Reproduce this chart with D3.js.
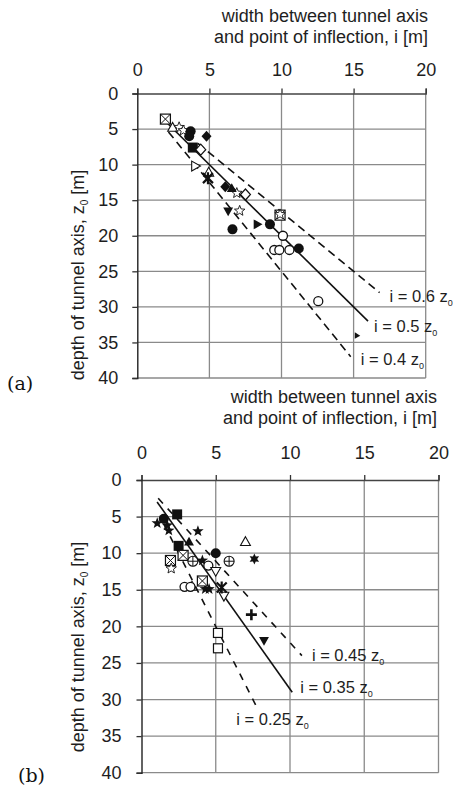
<!DOCTYPE html>
<html>
<head>
<meta charset="utf-8">
<script src="https://cdn.jsdelivr.net/npm/d3@7"></script>
<style>
  html, body { margin: 0; padding: 0; background: #fff; }
  svg { display: block; }
  .sans { font-family: "Liberation Sans", Arial, Helvetica, sans-serif; fill: #1e1e1e; }
  .serif { font-family: "DejaVu Serif", "Liberation Serif", serif; fill: #111; }
</style>
</head>
<body>
<svg id="chart" width="454" height="786"></svg>
<script>
// ---------- shared axis data ----------
const xTicks = [0, 5, 10, 15, 20];
const yTicks = [0, 5, 10, 15, 20, 25, 30, 35, 40];
const xTitle = ["width between tunnel axis", "and point of inflection, i [m]"];

// ---------- panel (a): case histories, i [m] vs z0 [m] ----------
const aCrossedSquare = [[1.95, 3.6], [9.9, 17.1]];
const aOpenTriangle = [[2.45, 4.85], [4.95, 11.15]];
const aOpenStar = [[2.9, 4.75], [3.2, 5.2], [6.9, 14.0], [7.1, 16.5], [9.9, 17.0]];
const aFilledCircle = [[3.7, 5.3], [3.6, 6.0], [6.6, 19.1], [9.2, 18.4], [11.2, 21.8]];
const aFilledDiamond = [[4.8, 6.0], [6.1, 13.1]];
const aFilledSquare = [[3.85, 7.6]];
const aOpenDiamond = [[4.4, 7.9], [7.5, 14.2]];
const aOpenRightTriangle = [[4.0, 10.2]];
const aAsterisk = [[4.9, 11.9]];
const aFilledTriangle = [[6.55, 13.4]];
const aFilledDownTriangle = [[6.3, 16.5]];
const aFilledRightTriangle = [[8.3, 18.4]];
const aOpenCircle = [[10.1, 20.0], [9.5, 22.0], [9.85, 22.0], [10.55, 22.0], [12.55, 29.2]];
const aSmallTriangle = [[15.2, 34.0]];

// trend lines i = k * z0
const aRatios = [0.6, 0.5, 0.4];
const aDepthFrom = [7, 4, 5.4];
const aDepthTo = [28, 32, 37];
const aLineLabels = ["0.6", "0.5", "0.4"];

// ---------- panel (b) ----------
const bFilledSquare = [[2.4, 4.7], [2.5, 9.0]];
const bFilledCircle = [[1.5, 5.3], [5.0, 10.0]];
const bFilledStar = [[1.06, 5.9], [1.73, 6.2], [1.84, 6.9], [3.8, 7.0], [4.1, 11.0], [4.3, 14.9], [4.55, 14.9]];
const bFilledTriangle = [[3.2, 8.5]];
const bOpenTriangle = [[7.0, 8.5], [3.4, 14.6]];
const bCrossedSquare = [[1.95, 11.0], [2.8, 10.3], [4.1, 13.8]];
const bOpenStar = [[2.0, 12.1]];
const bCirclePlus = [[3.46, 11.1], [5.9, 11.1]];
const bOpenCircle = [[4.5, 11.7], [2.9, 14.6], [3.3, 14.6]];
const bOpenDownTriangle = [[5.0, 12.4], [5.55, 15.8]];
const bSixStar = [[7.6, 10.8]];
const bAsterisk = [[5.4, 14.7]];
const bPlus = [[7.4, 18.4]];
const bFilledDownTriangle = [[8.25, 21.9]];
const bOpenSquare = [[5.15, 20.9], [5.15, 23.0]];

const bRatios = [0.45, 0.35, 0.25];
const bDepthFrom = [2.5, 3, 6];
const bDepthTo = [24, 29, 31.2];
const bLineLabels = ["0.45", "0.35", "0.25"];

// ---------- marker drawing ----------
const svg = d3.select("#chart");
const INK = "#111";

function starPath(n, ro, ri) {
  const pts = [];
  for (let k = 0; k < 2 * n; k++) {
    const r = k % 2 === 0 ? ro : ri;
    const a = -Math.PI / 2 + k * Math.PI / n;
    pts.push([r * Math.cos(a), r * Math.sin(a)]);
  }
  return "M" + pts.map(p => p[0].toFixed(2) + "," + p[1].toFixed(2)).join("L") + "Z";
}
function triPath(s, rot) {
  const p = [[0, -s], [s * 0.9, s * 0.6], [-s * 0.9, s * 0.6]];
  const c = Math.cos(rot), sn = Math.sin(rot);
  return "M" + p.map(q => [q[0] * c - q[1] * sn, q[0] * sn + q[1] * c].map(v => v.toFixed(2)).join(",")).join("L") + "Z";
}

const markers = {
  crossedSquare: g => {
    g.append("rect").attr("x", -5).attr("y", -5).attr("width", 10).attr("height", 10).attr("fill", "#fff").attr("stroke", INK).attr("stroke-width", 1.2);
    g.append("path").attr("d", "M-5,-5L5,5M5,-5L-5,5").attr("stroke", INK).attr("stroke-width", 1);
  },
  filledSquare: g => g.append("rect").attr("x", -5).attr("y", -5).attr("width", 10).attr("height", 10).attr("fill", INK),
  openSquare: g => g.append("rect").attr("x", -4.5).attr("y", -4.5).attr("width", 9).attr("height", 9).attr("fill", "#fff").attr("stroke", INK).attr("stroke-width", 1.2),
  filledCircle: g => g.append("circle").attr("r", 5).attr("fill", INK),
  openCircle: g => g.append("circle").attr("r", 4.5).attr("fill", "#fff").attr("stroke", INK).attr("stroke-width", 1.3),
  circlePlus: g => {
    g.append("circle").attr("r", 5).attr("fill", "#fff").attr("stroke", INK).attr("stroke-width", 1.1);
    g.append("path").attr("d", "M-5,0H5M0,-5V5").attr("stroke", INK).attr("stroke-width", 1);
  },
  filledDiamond: g => g.append("path").attr("d", "M0,-5.5L5,0L0,5.5L-5,0Z").attr("fill", INK),
  openDiamond: g => g.append("path").attr("d", "M0,-5.5L5,0L0,5.5L-5,0Z").attr("fill", "#fff").attr("stroke", INK).attr("stroke-width", 1.2),
  filledTriangle: g => g.append("path").attr("d", triPath(5.5, 0)).attr("fill", INK),
  openTriangle: g => g.append("path").attr("d", triPath(5.5, 0)).attr("fill", "#fff").attr("stroke", INK).attr("stroke-width", 1.1),
  filledDownTriangle: g => g.append("path").attr("d", triPath(5.5, Math.PI)).attr("fill", INK),
  openDownTriangle: g => g.append("path").attr("d", triPath(5.5, Math.PI)).attr("fill", "#fff").attr("stroke", INK).attr("stroke-width", 1.1),
  filledRightTriangle: g => g.append("path").attr("d", triPath(5.5, Math.PI / 2)).attr("fill", INK),
  openRightTriangle: g => g.append("path").attr("d", triPath(5.5, Math.PI / 2)).attr("fill", "#fff").attr("stroke", INK).attr("stroke-width", 1.1),
  smallTriangle: g => g.append("path").attr("d", triPath(3.5, -0.5)).attr("fill", INK),
  filledStar: g => g.append("path").attr("d", starPath(5, 6, 2.5)).attr("fill", INK),
  openStar: g => g.append("path").attr("d", starPath(5, 5.5, 2.4)).attr("fill", "#fff").attr("stroke", INK).attr("stroke-width", 0.9),
  sixStar: g => g.append("path").attr("d", starPath(6, 5.5, 2.8)).attr("fill", INK),
  asterisk: g => g.append("path").attr("d", "M-5,-5L5,5M5,-5L-5,5M0,-6V6").attr("stroke", INK).attr("stroke-width", 2.2),
  plus: g => g.append("path").attr("d", "M-5.5,0H5.5M0,-5.5V5.5").attr("stroke", INK).attr("stroke-width", 2.6)
};

// ---------- panel builder ----------
function panel(cfg) {
  const x = d3.scaleLinear().domain([0, 20]).range(cfg.xr);
  const y = d3.scaleLinear().domain([0, 40]).range(cfg.yr);
  const g = svg.append("g");

  // grid
  g.append("g").selectAll("line").data(xTicks.slice(1)).join("line")
    .attr("x1", d => x(d)).attr("x2", d => x(d)).attr("y1", y(0)).attr("y2", y(40))
    .attr("stroke", "#8a8a8a").attr("stroke-width", 1.3);
  g.append("g").selectAll("line").data(yTicks.slice(1)).join("line")
    .attr("x1", x(0)).attr("x2", x(20)).attr("y1", d => y(d)).attr("y2", d => y(d))
    .attr("stroke", "#8a8a8a").attr("stroke-width", 1.3);

  // axes with outward ticks
  const top = g.append("g").attr("transform", `translate(0,${y(0)})`)
    .call(d3.axisTop(x).tickValues(xTicks).tickSize(5).tickPadding(cfg.xPad).tickFormat(d3.format("d")));
  const left = g.append("g").attr("transform", `translate(${x(0)},0)`)
    .call(d3.axisLeft(y).tickValues(yTicks).tickSize(5).tickPadding(cfg.yPad).tickFormat(d3.format("d")));
  [top, left].forEach(a => {
    a.attr("font-family", null).attr("font-size", null);
    a.select(".domain").attr("stroke", "#222").attr("stroke-width", 1.4);
    a.selectAll(".tick line").attr("stroke", "#333").attr("stroke-width", 1.3);
    a.selectAll(".tick text").attr("class", "sans").style("font-size", "18px");
  });
  top.select(".domain").attr("stroke", "#444");

  // trend lines
  cfg.ratios.forEach((k, n) => {
    const z0 = cfg.from[n], z1 = cfg.to[n];
    g.append("line")
      .attr("x1", x(k * z0)).attr("y1", y(z0)).attr("x2", x(k * z1)).attr("y2", y(z1))
      .attr("stroke", "#111").attr("stroke-width", 1.6)
      .attr("stroke-dasharray", n === 1 ? null : cfg.dash);
    const off = cfg.labelOff[n];
    const t = g.append("text").attr("class", "sans")
      .attr("x", x(k * z1) + off[0]).attr("y", y(z1) + off[1])
      .style("font-size", "16.5px");
    t.append("tspan").text(`i = ${cfg.labels[n]} z`);
    t.append("tspan").style("font-size", "9px").attr("dy", 4).text("0");
  });

  // data markers
  cfg.series.forEach(([pts, kind]) => {
    g.append("g").selectAll("g").data(pts).join("g")
      .attr("transform", d => `translate(${x(d[0])},${y(d[1])})`)
      .each(function () { markers[kind](d3.select(this)); });
  });

  // x-axis title
  xTitle.forEach((s, n) => {
    g.append("text").attr("class", "sans").attr("x", cfg.titleX).attr("y", cfg.titleY + n * 21)
      .attr("text-anchor", "end").style("font-size", "18px").text(s);
  });

  // y-axis title
  const yt = g.append("text").attr("class", "sans")
    .attr("transform", `translate(${cfg.yTitleX},${cfg.yTitleY}) rotate(-90)`)
    .attr("text-anchor", "middle").style("font-size", "18px");
  yt.append("tspan").text("depth of tunnel axis, z");
  yt.append("tspan").style("font-size", "10px").attr("dy", 4).text("0");
  yt.append("tspan").attr("dy", -4).text(" [m]");

  // panel tag
  g.append("text").attr("class", "serif").attr("x", cfg.tagX).attr("y", cfg.tagY)
    .style("font-size", "19px").text(cfg.tag);
}

panel({
  xr: [137.3, 425.7], yr: [93.5, 378],
  xPad: 13, yPad: 14,
  ratios: aRatios, from: aDepthFrom, to: aDepthTo, labels: aLineLabels,
  labelOff: [[10, 9], [6, 11], [10, 8]], dash: "8,5",
  series: [
    [aCrossedSquare, "crossedSquare"], [aOpenTriangle, "openTriangle"], [aOpenStar, "openStar"],
    [aFilledCircle, "filledCircle"], [aFilledDiamond, "filledDiamond"], [aFilledSquare, "filledSquare"],
    [aOpenDiamond, "openDiamond"], [aOpenRightTriangle, "openRightTriangle"], [aAsterisk, "asterisk"],
    [aFilledTriangle, "filledTriangle"], [aFilledDownTriangle, "filledDownTriangle"],
    [aFilledRightTriangle, "filledRightTriangle"], [aOpenCircle, "openCircle"], [aSmallTriangle, "smallTriangle"]
  ],
  titleX: 428, titleY: 22,
  yTitleX: 84, yTitleY: 275,
  tag: "(a)", tagX: 7, tagY: 390
});

panel({
  xr: [141.5, 438.5], yr: [480, 772.7],
  xPad: 16, yPad: 15,
  ratios: bRatios, from: bDepthFrom, to: bDepthTo, labels: bLineLabels,
  labelOff: [[10, 5], [8, 1], [-21, 17]], dash: "7,7",
  series: [
    [bFilledSquare, "filledSquare"], [bFilledCircle, "filledCircle"], [bFilledStar, "filledStar"],
    [bFilledTriangle, "filledTriangle"], [bOpenTriangle, "openTriangle"], [bCrossedSquare, "crossedSquare"],
    [bOpenStar, "openStar"], [bCirclePlus, "circlePlus"], [bOpenCircle, "openCircle"],
    [bOpenDownTriangle, "openDownTriangle"], [bSixStar, "sixStar"], [bAsterisk, "asterisk"],
    [bPlus, "plus"], [bFilledDownTriangle, "filledDownTriangle"], [bOpenSquare, "openSquare"]
  ],
  titleX: 437, titleY: 403,
  yTitleX: 84, yTitleY: 647,
  tag: "(b)", tagX: 18, tagY: 782
});
</script>
</body>
</html>
